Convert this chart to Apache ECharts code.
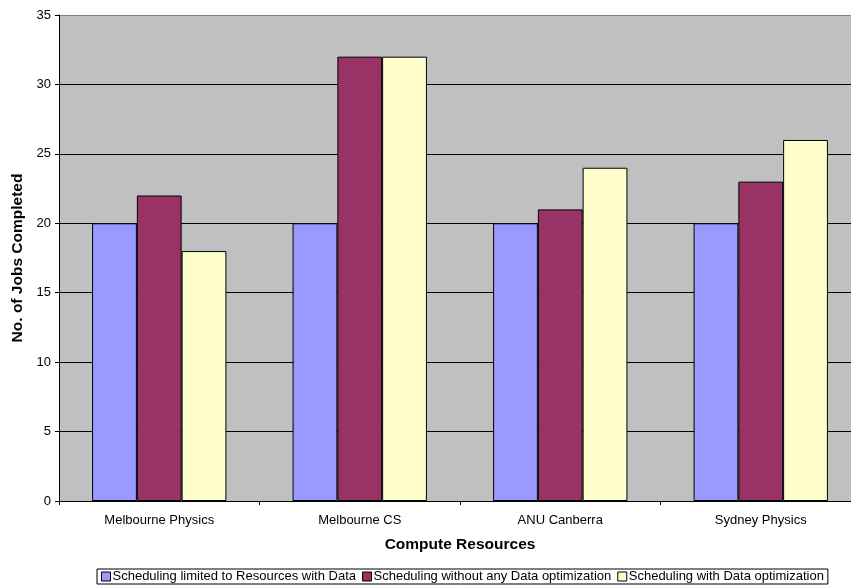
<!DOCTYPE html>
<html>
<head>
<meta charset="utf-8">
<script src="https://cdn.jsdelivr.net/npm/echarts@6/dist/echarts.min.js"></script>
<style>
  html, body { margin: 0; padding: 0; background: #fff; overflow: hidden; width: 851px; height: 587px; }
  #chart { width: 870px; height: 587px; }
</style>
</head>
<body>
<div id="chart"></div>
<script>
// Jobs completed per compute resource under three scheduling strategies
const categories = ['Melbourne Physics', 'Melbourne CS', 'ANU Canberra', 'Sydney Physics'];
const seriesNames = [
  'Scheduling limited to Resources with Data',
  'Scheduling without any Data optimization',
  'Scheduling with Data optimization'
];
const limitedToData = [20, 20, 20, 20];
const noOptimization = [22, 32, 21, 23];
const withOptimization = [18, 32, 24, 26];
const yTicks = { min: 0, max: 35, interval: 5 };

const colors = ['#9999FF', '#993366', '#FFFFCC'];
const values = [limitedToData, noOptimization, withOptimization];
const font = 'Liberation Sans, Arial, sans-serif';

// Grid lines are black; the top one doubles as the grey plot border.
const gridLineColors = ['#000', '#000', '#000', '#000', '#000', '#000', '#000', '#808080'];

// The canvas is a little wider than the page so the plot runs off the right edge.
const chart = echarts.init(document.getElementById('chart'), null, { renderer: 'canvas' });
chart.setOption({
  animation: false,
  textStyle: { fontFamily: font },
  grid: {
    left: 59, top: 15, right: 9, bottom: 86,
    containLabel: false, outerBoundsMode: 'none',
    show: true, backgroundColor: '#C0C0C0', borderWidth: 0
  },
  xAxis: {
    type: 'category',
    data: categories,
    name: 'Compute Resources',
    nameLocation: 'middle',
    nameGap: 36,
    nameTextStyle: { fontFamily: font, fontSize: 15.5, fontWeight: 'bold', color: '#000' },
    axisLine: { lineStyle: { color: '#000', width: 1 } },
    axisTick: { show: true, length: 4, lineStyle: { color: '#000' } },
    axisLabel: { fontFamily: font, fontSize: 13, color: '#000', margin: 13 },
    splitLine: { show: false }
  },
  yAxis: {
    type: 'value',
    min: yTicks.min,
    max: yTicks.max,
    interval: yTicks.interval,
    name: 'No. of Jobs Completed',
    nameLocation: 'middle',
    nameGap: 32,
    nameTextStyle: { fontFamily: font, fontSize: 15.5, fontWeight: 'bold', color: '#000' },
    axisLine: { show: true, lineStyle: { color: '#000', width: 1 } },
    axisTick: { show: true, length: 4, lineStyle: { color: '#000' } },
    axisLabel: { fontFamily: font, fontSize: 13, color: '#000', margin: 8 },
    splitLine: { show: true, lineStyle: { color: gridLineColors, width: 1 } }
  },
  legend: {
    top: 569,
    left: 97,
    itemWidth: 9,
    itemHeight: 9,
    itemGap: 6,
    icon: 'rect',
    borderColor: '#000',
    borderWidth: 1,
    padding: [1, 4, 1, 4],
    textStyle: { fontFamily: font, fontSize: 13, color: '#000', padding: [0, 0, 0, -3] },
    data: seriesNames.map((n, i) => ({ name: n, itemStyle: { color: colors[i], borderColor: '#000', borderWidth: 1 } }))
  },
  series: seriesNames.map((name, i) => ({
    name,
    type: 'bar',
    data: values[i],
    barGap: '0%',
    barCategoryGap: '33%',
    itemStyle: { color: colors[i], borderColor: '#000', borderWidth: 1 }
  }))
});
</script>
</body>
</html>
